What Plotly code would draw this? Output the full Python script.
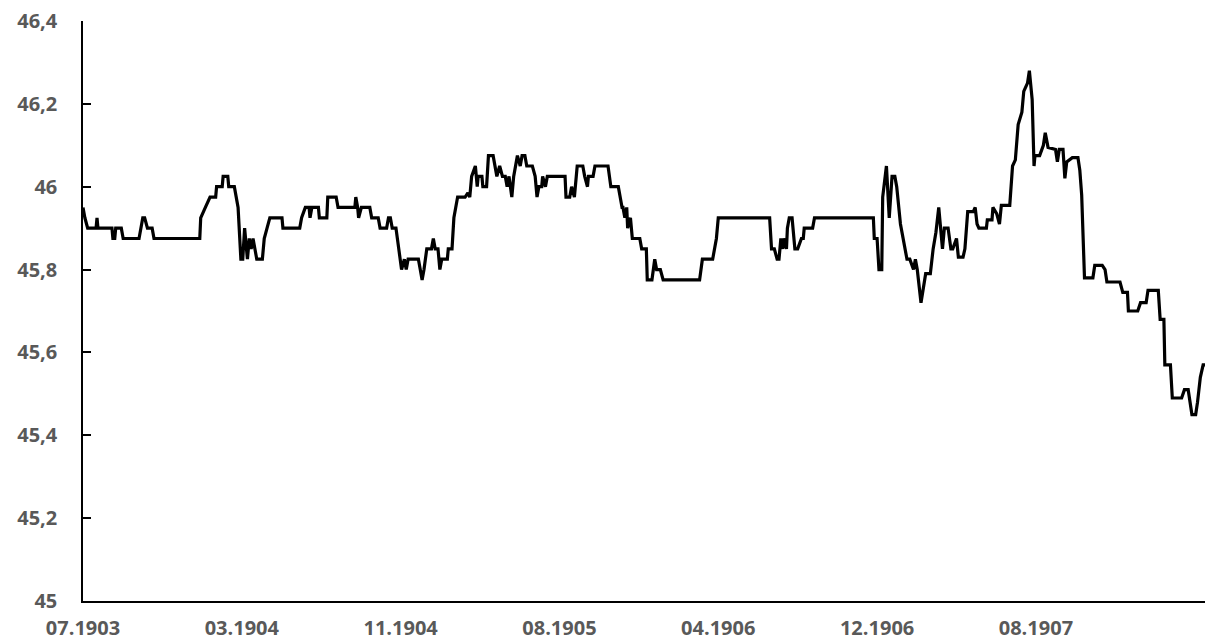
import plotly.graph_objects as go

# observation index (trading-day number) and value
obs = [0, 2, 5, 14, 15, 16, 31, 32, 34, 35, 41, 43, 60, 62, 64, 66, 69, 74, 76, 125,
       126, 131, 136, 142, 143, 149, 150, 155, 156, 162, 164, 166, 169, 171, 173, 176, 178, 180, 182, 184,
       186, 192, 194, 197, 200, 213, 214, 232, 234, 238, 242, 243, 245, 252, 253, 261, 262, 271, 273, 291,
       292, 294, 295, 298, 307, 309, 316, 318, 325, 327, 329, 331, 335, 338, 341, 344, 346, 348, 359, 361,
       363, 365, 368, 373, 375, 377, 380, 382, 384, 390, 391, 395, 397, 401, 409, 412, 414, 416, 420, 422,
       423, 427, 428, 432, 434, 439, 441, 443, 446, 449, 452, 454, 456, 459, 461, 465, 468, 470, 473, 475,
       481, 484, 486, 488, 491, 492, 495, 497, 516, 517, 521, 523, 526, 529, 535, 537, 540, 541, 546, 548,
       562, 565, 573, 577, 578, 580, 582, 583, 586, 588, 596, 598, 603, 604, 609, 612, 614, 618, 621, 660,
       663, 674, 678, 680, 735, 737, 740, 743, 745, 747, 749, 750, 753, 754, 756, 759, 762, 765, 769, 771,
       772, 781, 783, 846, 847, 850, 852, 855, 856, 860, 863, 866, 869, 871, 875, 878, 882, 885, 889, 891,
       893, 897, 899, 902, 907, 910, 913, 916, 920, 922, 926, 929, 931, 935, 937, 942, 944, 947, 953, 955,
       957, 959, 967, 968, 973, 974, 978, 981, 983, 992, 995, 998, 1001, 1005, 1007, 1011, 1013, 1016, 1018, 1019,
       1024, 1028, 1030, 1033, 1041, 1043, 1045, 1049, 1051, 1053, 1059, 1065, 1067, 1069, 1072, 1081, 1083, 1091, 1094, 1096,
       1110, 1113, 1118, 1119, 1129, 1132, 1138, 1140, 1151, 1153, 1157, 1158, 1164, 1166, 1176, 1179, 1183, 1185, 1187, 1191,
       1193, 1196, 1199, 1201]

values = [45.95, 45.925, 45.9, 45.9, 45.925, 45.9, 45.9, 45.875, 45.875, 45.9, 45.9, 45.875, 45.875, 45.9, 45.925, 45.925, 45.9, 45.9, 45.875, 45.875,
          45.925, 45.95, 45.975, 45.975, 46.0, 46.0, 46.025, 46.025, 46.0, 46.0, 45.975, 45.95, 45.825, 45.825, 45.9, 45.825, 45.875, 45.85, 45.875, 45.85,
          45.825, 45.825, 45.875, 45.9, 45.925, 45.925, 45.9, 45.9, 45.925, 45.95, 45.95, 45.925, 45.95, 45.95, 45.925, 45.925, 45.975, 45.975, 45.95, 45.95,
          45.975, 45.95, 45.925, 45.95, 45.95, 45.925, 45.925, 45.9, 45.9, 45.925, 45.925, 45.9, 45.9, 45.85, 45.8, 45.825, 45.8, 45.825, 45.825, 45.8,
          45.775, 45.8, 45.85, 45.85, 45.875, 45.85, 45.85, 45.8, 45.825, 45.825, 45.85, 45.85, 45.925, 45.975, 45.975, 45.985, 45.975, 46.025, 46.05, 46.0,
          46.025, 46.025, 46.0, 46.0, 46.075, 46.075, 46.05, 46.025, 46.05, 46.025, 46.025, 46.0, 46.025, 45.975, 46.025, 46.075, 46.05, 46.075, 46.075, 46.05,
          46.05, 46.025, 45.975, 46.0, 46.0, 46.025, 46.0, 46.025, 46.025, 45.975, 45.975, 46.0, 45.975, 46.05, 46.05, 46.025, 46.0, 46.025, 46.025, 46.05,
          46.05, 46.0, 46.0, 45.95, 45.95, 45.925, 45.95, 45.9, 45.925, 45.875, 45.875, 45.85, 45.85, 45.775, 45.775, 45.825, 45.8, 45.8, 45.775, 45.775,
          45.825, 45.825, 45.875, 45.925, 45.925, 45.85, 45.85, 45.825, 45.825, 45.875, 45.85, 45.875, 45.85, 45.9, 45.925, 45.925, 45.85, 45.85, 45.875, 45.875,
          45.9, 45.9, 45.925, 45.925, 45.875, 45.875, 45.8, 45.8, 45.975, 46.05, 45.925, 46.025, 46.025, 46.0, 45.91, 45.875, 45.825, 45.825, 45.8, 45.825,
          45.8, 45.72, 45.75, 45.79, 45.79, 45.85, 45.89, 45.95, 45.85, 45.9, 45.9, 45.85, 45.85, 45.875, 45.83, 45.83, 45.85, 45.94, 45.94, 45.95,
          45.91, 45.9, 45.9, 45.92, 45.92, 45.95, 45.935, 45.91, 45.955, 45.955, 46.05, 46.065, 46.15, 46.18, 46.23, 46.25, 46.28, 46.21, 46.05, 46.075,
          46.075, 46.1, 46.13, 46.095, 46.09, 46.06, 46.09, 46.09, 46.02, 46.06, 46.07, 46.07, 46.04, 45.98, 45.78, 45.78, 45.81, 45.81, 45.8, 45.77,
          45.77, 45.745, 45.745, 45.7, 45.7, 45.72, 45.72, 45.75, 45.75, 45.68, 45.68, 45.57, 45.57, 45.49, 45.49, 45.51, 45.51, 45.48, 45.45, 45.45,
          45.48, 45.54, 45.57, 45.57]

x_tick_pos = [0, 170, 340, 510, 680, 850, 1020]
x_tick_labels = ["07.1903", "03.1904", "11.1904", "08.1905", "04.1906", "12.1906", "08.1907"]
y_tick_vals = [45, 45.2, 45.4, 45.6, 45.8, 46, 46.2, 46.4]
y_tick_labels = ["45", "45,2", "45,4", "45,6", "45,8", "46", "46,2", "46,4"]

fig = go.Figure()
fig.add_trace(go.Scatter(x=obs, y=values, mode="lines",
                         line=dict(color="black", width=3.2), hoverinfo="skip"))

tick_font = dict(family="Open Sans", size=20, color="#595959", weight="bold")

fig.update_layout(
    width=1206, height=644,
    margin=dict(l=83, r=1, t=21, b=43),
    paper_bgcolor="white", plot_bgcolor="white",
    showlegend=False,
    xaxis=dict(range=[0, obs[-1]], tickvals=x_tick_pos, ticktext=x_tick_labels,
               showgrid=False, zeroline=False, showline=True, linecolor="black", linewidth=1.5,
               ticks="", tickfont=tick_font, ticklabelstandoff=8),
    yaxis=dict(range=[45, 46.4], tickvals=y_tick_vals, ticktext=y_tick_labels,
               showgrid=False, zeroline=False, showline=True, linecolor="black", linewidth=1.5,
               ticks="inside", ticklen=8, tickcolor="black", tickwidth=1.5,
               tickfont=tick_font, ticklabelstandoff=20),
)

fig.write_html("out.html", config={"displayModeBar": False},
               post_script="document.body.style.margin='0';document.body.style.overflow='hidden';")
